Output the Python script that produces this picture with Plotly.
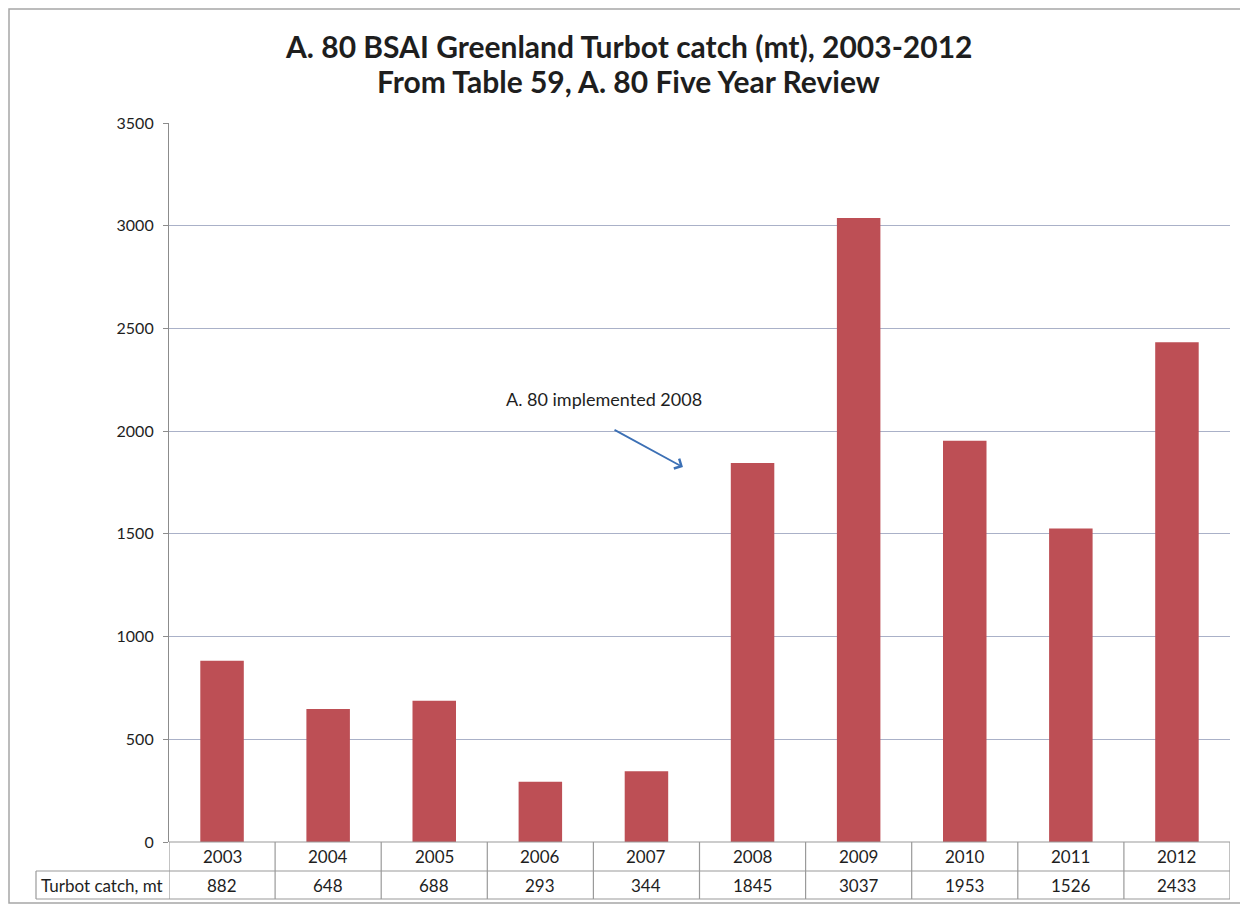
import plotly.graph_objects as go

years = ["2003", "2004", "2005", "2006", "2007", "2008", "2009", "2010", "2011", "2012"]
catch_mt = [882, 648, 688, 293, 344, 1845, 3037, 1953, 1526, 2433]
row_label = "Turbot catch, mt"
y_ticks = [0, 500, 1000, 1500, 2000, 2500, 3000, 3500]
title_lines = ["A. 80 BSAI Greenland Turbot catch (mt), 2003-2012",
               "From Table 59, A. 80 Five Year Review"]
note_text = "A. 80 implemented 2008"

OFF = 7  # page offset of the plot div
W, H = 1248 - OFF - 1, 907 - OFF - 1
L = 168 - OFF
T = 122 - OFF
R = W - (1229 - OFF)
B = H - (841 - OFF)
PW, PH = W - L - R, H - T - B

def px(x):  # screen pixel x -> paper
    return (x - OFF - L) / PW

def py(y):  # screen pixel y -> paper
    return (H - B - (y - OFF)) / PH

FONT = "Lato"
GRID = "#AAB1C8"
TBL = "#9A9A9A"
TXT = "#1E1E1E"

fig = go.Figure()
fig.add_trace(go.Bar(x=list(range(len(years))), y=catch_mt, width=0.41,
                     marker=dict(color="#BD4F55", line=dict(width=0))))

shapes = []
annotations = []

# outer chart border (right side runs off the page, as in the scan)
shapes.append(dict(type="rect", xref="paper", yref="paper",
                   x0=px(8), x1=px(1262), y0=py(902), y1=py(OFF + 1),
                   line=dict(color="#A6A6A6", width=1.5), layer="below"))

# data table
y_top, y_mid, y_bot = py(841), py(870), py(898)
n = len(years)
shapes.append(dict(type="line", xref="x", yref="paper", x0=-0.5, x1=n - 0.5,
                   y0=y_top, y1=y_top, line=dict(color=TBL, width=1.2)))
for yy in (y_mid, y_bot):
    shapes.append(dict(type="line", xref="paper", yref="paper", x0=px(35), x1=1,
                       y0=yy, y1=yy, line=dict(color=TBL, width=1.2)))
for i in range(n + 1):
    shapes.append(dict(type="line", xref="x", yref="paper", x0=i - 0.5, x1=i - 0.5,
                       y0=y_top, y1=y_bot, line=dict(color=TBL, width=1.2)))
shapes.append(dict(type="line", xref="paper", yref="paper", x0=px(35), x1=px(35),
                   y0=y_mid, y1=y_bot, line=dict(color=TBL, width=1.2)))

tfont = dict(family=FONT, size=17, color=TXT)
for i, (yr, v) in enumerate(zip(years, catch_mt)):
    annotations.append(dict(x=i, y=(y_top + y_mid) / 2, xref="x", yref="paper",
                            text=yr, showarrow=False, font=tfont,
                            xanchor="center", yanchor="middle"))
    annotations.append(dict(x=i, y=(y_mid + y_bot) / 2, xref="x", yref="paper",
                            text=str(v), showarrow=False, font=tfont,
                            xanchor="center", yanchor="middle"))
annotations.append(dict(x=px(101), y=(y_mid + y_bot) / 2, xref="paper", yref="paper",
                        text=row_label, showarrow=False, font=tfont,
                        xanchor="center", yanchor="middle"))

# title
for txt, yy in zip(title_lines, (45, 80)):
    annotations.append(dict(x=px(627), y=py(yy), xref="paper", yref="paper", text="<b>" + txt + "</b>",
                            showarrow=False, font=dict(family=FONT, size=30, color=TXT),
                            xanchor="center", yanchor="middle"))

# note + arrow
annotations.append(dict(x=3.6, y=2156, xref="x", yref="y", text=note_text, showarrow=False,
                        font=dict(family=FONT, size=18, color=TXT),
                        xanchor="center", yanchor="middle"))
annotations.append(dict(x=4.344, y=1825, ax=3.685, ay=2010, xref="x", yref="y", axref="x", ayref="y",
                        text="", showarrow=True, arrowhead=4, arrowsize=1.2, arrowwidth=1.8,
                        arrowcolor="#3C70B5"))

fig.update_layout(
    width=W, height=H,
    margin=dict(l=L, r=R, t=T, b=B, pad=0),
    paper_bgcolor="white", plot_bgcolor="white",
    showlegend=False,
    font=dict(family=FONT, size=16, color=TXT),
    xaxis=dict(range=[-0.5, n - 0.5], showticklabels=False,
               showgrid=False, zeroline=False, showline=False, ticks=""),
    yaxis=dict(range=[0, 3500], tickvals=y_ticks, showgrid=True, gridcolor=GRID, gridwidth=1.2,
               zeroline=False, showline=True, linecolor="#8C8C8C", linewidth=1.2,
               ticks="outside", ticklen=5, tickcolor="#8C8C8C",
               tickfont=dict(family=FONT, size=16, color=TXT), ticklabelstandoff=6),
    shapes=shapes, annotations=annotations,
)

fig.write_html("out.html")
